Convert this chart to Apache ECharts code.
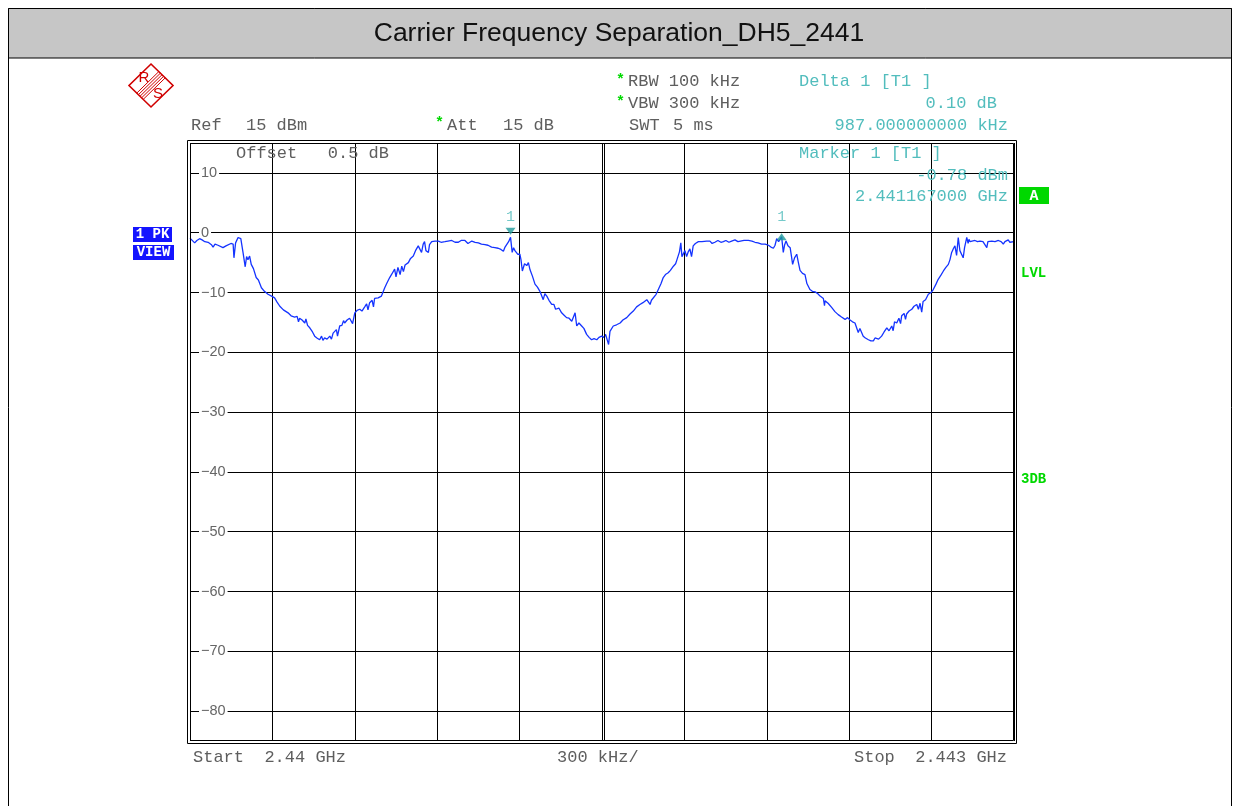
<!DOCTYPE html>
<html>
<head>
<meta charset="utf-8">
<script src="https://cdn.jsdelivr.net/npm/echarts@6/dist/echarts.min.js"></script>
<style>
  html, body { margin: 0; padding: 0; background: #fff; }
  #chart { width: 1234px; height: 806px; }
</style>
</head>
<body>
<div id="chart"></div>
<script>
// ---- Measurement settings ----
const TITLE = 'Carrier Frequency Separation_DH5_2441';
const START_GHZ = 2.44;
const STOP_GHZ = 2.443;
const SPAN_KHZ = 3000;       // frequency offset axis, kHz from start
const DIV_KHZ = 300;
const REF_DBM = 15;
const BOTTOM_DBM = -85;
const LEVEL_STEP = 10;

// ---- Trace: frequency offset from start (kHz) and level (dBm) ----
const traceKHz = [
  0, 5, 17, 25, 35, 44, 54, 66, 78, 84, 91, 102, 109, 120, 131, 138, 149, 157, 160, 166,
  175, 185, 193, 201, 206, 211, 217, 223, 231, 241, 249, 260, 271, 284, 297, 308, 317, 327, 340, 357,
  368, 381, 390, 395, 399, 408, 418, 422, 428, 436, 446, 454, 462, 472, 479, 484, 490, 499, 509, 515,
  521, 527, 533, 537, 545, 553, 559, 563, 572, 581, 587, 592, 600, 608, 618, 626, 636, 643, 648, 654,
  663, 668, 672, 685, 697, 703, 709, 717, 727, 735, 745, 750, 757, 765, 771, 777, 783, 795, 803, 813,
  821, 831, 837, 843, 849, 854, 859, 868, 872, 880, 892, 904, 914, 921, 928, 939, 953, 965, 977, 987,
  994, 1001, 1012, 1026, 1038, 1050, 1061, 1074, 1085, 1098, 1110, 1122, 1132, 1141, 1147, 1153, 1160, 1167, 1173, 1178,
  1183, 1189, 1193, 1201, 1205, 1210, 1218, 1226, 1232, 1238, 1247, 1256, 1265, 1274, 1280, 1286, 1292, 1299, 1307, 1317,
  1325, 1331, 1335, 1343, 1353, 1362, 1371, 1380, 1390, 1394, 1402, 1408, 1416, 1426, 1434, 1444, 1453, 1462, 1471, 1481,
  1489, 1499, 1507, 1513, 1517, 1524, 1529, 1541, 1553, 1566, 1576, 1590, 1602, 1614, 1620, 1626, 1638, 1649, 1663, 1669,
  1675, 1680, 1687, 1697, 1705, 1715, 1723, 1731, 1741, 1749, 1760, 1768, 1773, 1778, 1782, 1787, 1791, 1796, 1802, 1808,
  1814, 1820, 1826, 1832, 1840, 1851, 1864, 1881, 1893, 1901, 1911, 1922, 1933, 1942, 1951, 1962, 1972, 1984, 1995, 2002,
  2017, 2033, 2046, 2057, 2068, 2081, 2094, 2106, 2115, 2124, 2130, 2136, 2143, 2154, 2160, 2165, 2170, 2177, 2185, 2190,
  2194, 2201, 2209, 2215, 2221, 2230, 2239, 2246, 2257, 2266, 2276, 2286, 2294, 2306, 2310, 2312, 2323, 2336, 2348, 2360,
  2372, 2385, 2394, 2403, 2412, 2421, 2428, 2433, 2439, 2451, 2459, 2470, 2479, 2488, 2494, 2500, 2507, 2518, 2527, 2537,
  2545, 2555, 2560, 2565, 2573, 2581, 2587, 2591, 2600, 2605, 2609, 2618, 2628, 2636, 2646, 2652, 2658, 2664, 2669, 2678,
  2688, 2698, 2706, 2716, 2724, 2734, 2743, 2752, 2761, 2767, 2773, 2780, 2785, 2791, 2797, 2803, 2809, 2815, 2820, 2828,
  2833, 2836, 2840, 2847, 2858, 2867, 2876, 2887, 2894, 2901, 2905, 2919, 2931, 2943, 2953, 2961, 2967, 2979, 2985, 2992,
  3000
];
const traceDBm = [
  -0.9, -1.1, -1.7, -1.3, -1.0, -1.2, -1.5, -1.6, -2.0, -2.4, -1.9, -2.1, -2.3, -2.5, -2.2, -2.0, -1.8, -1.9, -4.2, -1.7,
  -0.8, -1.0, -3.3, -5.7, -4.0, -4.5, -3.9, -5.3, -6.0, -7.5, -7.9, -9.2, -9.8, -10.3, -10.6, -10.9, -11.6, -12.3, -12.9, -13.4,
  -13.9, -14.1, -14.0, -14.9, -14.3, -14.6, -15.1, -14.4, -15.5, -15.9, -16.6, -17.3, -17.6, -17.9, -17.3, -18.0, -17.6, -17.8, -17.3, -17.8,
  -16.8, -16.5, -16.2, -17.3, -15.6, -15.5, -14.7, -15.1, -14.6, -14.3, -14.2, -15.2, -13.4, -13.0, -12.8, -13.1, -12.4, -11.9, -12.9, -11.7,
  -11.3, -12.4, -11.0, -10.9, -10.6, -10.4, -9.2, -8.4, -7.5, -6.9, -6.1, -7.4, -5.8, -7.0, -5.6, -6.5, -5.4, -5.0, -4.3, -3.9,
  -3.0, -2.2, -2.0, -3.3, -1.9, -1.5, -3.0, -3.3, -2.0, -1.5, -1.4, -1.4, -1.6, -1.3, -1.5, -1.4, -1.3, -1.6, -1.6, -1.3,
  -1.5, -1.3, -1.8, -1.4, -1.6, -1.7, -1.9, -2.0, -2.1, -2.4, -2.5, -2.6, -2.8, -3.1, -2.4, -2.2, -1.5, -0.78, -3.3, -2.5,
  -3.0, -2.7, -3.6, -3.6, -4.5, -6.4, -5.2, -5.5, -5.0, -6.2, -7.3, -8.6, -9.1, -9.8, -9.6, -11.2, -10.2, -10.6, -11.3, -12.0,
  -12.0, -12.8, -13.1, -12.6, -13.4, -13.8, -14.2, -14.3, -14.8, -14.5, -13.4, -15.6, -15.1, -15.6, -16.0, -17.0, -17.5, -17.9, -17.7, -17.9,
  -17.5, -17.3, -17.5, -17.0, -17.0, -18.7, -16.5, -15.6, -15.4, -15.1, -14.6, -14.2, -13.6, -13.1, -13.4, -12.4, -12.0, -11.7, -11.2, -11.0,
  -12.0, -11.3, -11.0, -10.3, -9.5, -8.5, -7.5, -7.0, -6.7, -6.3, -5.6, -5.2, -4.5, -4.7, -3.2, -1.7, -4.0, -3.9, -3.0, -4.0,
  -3.2, -2.7, -4.0, -2.2, -1.8, -1.5, -1.5, -1.4, -1.4, -1.8, -1.6, -1.3, -1.6, -1.5, -1.3, -1.6, -1.4, -1.2, -1.5, -1.3,
  -1.3, -1.3, -1.4, -1.6, -1.7, -1.9, -1.9, -2.1, -2.4, -2.6, -2.1, -1.0, -1.5, -0.68, -3.3, -2.0, -1.4, -2.2, -2.5, -4.0,
  -5.3, -4.2, -3.6, -5.0, -6.3, -6.8, -7.0, -8.5, -9.5, -9.8, -9.9, -10.2, -10.6, -11.0, -12.2, -11.4, -11.8, -12.5, -13.2, -13.7,
  -14.1, -14.5, -14.2, -14.6, -14.9, -15.1, -15.1, -16.7, -16.0, -17.3, -17.6, -17.9, -18.1, -18.1, -17.6, -17.3, -17.8, -17.3, -16.6, -15.9,
  -16.4, -15.6, -16.4, -14.9, -15.1, -14.3, -15.2, -13.9, -13.5, -14.5, -13.6, -13.1, -12.8, -12.3, -12.0, -12.8, -11.8, -13.3, -11.5, -11.2,
  -10.3, -10.0, -9.5, -8.6, -7.8, -7.1, -6.4, -5.8, -5.3, -4.5, -3.3, -2.6, -2.2, -3.8, -0.8, -3.0, -3.6, -4.2, -2.5, -0.8,
  -1.8, -1.1, -1.5, -1.3, -1.3, -1.5, -1.4, -1.5, -1.5, -2.5, -1.5, -1.4, -1.5, -1.3, -1.5, -1.9, -1.5, -1.2, -1.6, -1.4,
  -1.5
];

// ---- Markers: Marker 1 (T1) and Delta 1 (T1) ----
const markerKHz = [1167, 2154];
const markerDBm = [-0.78, -0.68];

// ---- Styling ----
const GRID = { left: 190, top: 143, width: 824, height: 598 };
const MONO = '"Liberation Mono", "Courier New", monospace';
const SANS = '"Liberation Sans", Arial, Helvetica, sans-serif';
const GRAY = '#5e5e5e';
const CYAN = '#52bdbd';
const TEAL = '#1f9a9a';
const GREEN = '#00d800';
const TRACE = '#1433ff';
const GRIDLINE = '#000000';

const fmtMinus = v => String(v).replace('-', '\u2212');

const deltaLevelText = (markerDBm[1] - markerDBm[0]).toFixed(2) + ' dB';
const deltaFreqText = (markerKHz[1] - markerKHz[0]).toFixed(9) + ' kHz';
const markerLevelText = markerDBm[0].toFixed(2) + ' dBm';
const markerFreqText = (START_GHZ + markerKHz[0] / 1e6).toFixed(9) + ' GHz';

function txt(text, x, y, opts) {
  opts = opts || {};
  return {
    type: 'text', x: x, y: y, z: 100, silent: true,
    style: {
      text: text,
      font: (opts.weight || 'normal') + ' ' + (opts.size || 17) + 'px ' + (opts.family || MONO),
      fill: opts.color || GRAY,
      align: opts.align || 'left',
      verticalAlign: 'middle'
    }
  };
}
function box(x, y, w, h, fill) {
  return { type: 'rect', z: 90, silent: true, shape: { x: x, y: y, width: w, height: h }, style: { fill: fill } };
}
function line(x1, y1, x2, y2, color, width) {
  return { type: 'line', z: 95, silent: true, shape: { x1: x1, y1: y1, x2: x2, y2: y2 }, style: { stroke: color, lineWidth: width || 1 } };
}

// Rohde & Schwarz style logo: diamond, diagonal band, R and S
function logo(cx, cy, rx, ry) {
  const red = '#d00000';
  const els = [];
  els.push({ type: 'polygon', z: 95, silent: true,
    shape: { points: [[cx, cy - ry], [cx + rx, cy], [cx, cy + ry], [cx - rx, cy]] },
    style: { fill: '#fff', stroke: red, lineWidth: 1.6 } });
  const ux = rx / Math.hypot(rx, ry), uy = ry / Math.hypot(rx, ry);
  const ne = [cx + rx / 2, cy - ry / 2], sw = [cx - rx / 2, cy + ry / 2];
  [-4.5, -2.25, 0, 2.25, 4.5].forEach(t => {
    els.push(line(ne[0] + t * ux, ne[1] + t * uy, sw[0] + t * ux, sw[1] + t * uy, red, 1));
  });
  els.push(txt('R', cx - 7, cy - 8, { family: SANS, size: 15, color: red, align: 'center' }));
  els.push(txt('S', cx + 7, cy + 8, { family: SANS, size: 15, color: red, align: 'center' }));
  return els;
}

const chart = echarts.init(document.getElementById('chart'), null, { renderer: 'canvas' });

const frameIn = { x: GRID.left + 0.5, y: GRID.top + 0.5, w: GRID.width - 1, h: GRID.height - 1 };

const graphics = [
  // page border and title bar
  { type: 'rect', z: 1, silent: true, shape: { x: 8.5, y: 8.5, width: 1223, height: 840 }, style: { fill: 'none', stroke: '#000', lineWidth: 1 } },
  { type: 'rect', z: 2, silent: true, shape: { x: 8.5, y: 8.5, width: 1223, height: 49.5 }, style: { fill: '#c6c6c6', stroke: '#000', lineWidth: 1 } },
  txt(TITLE, 619, 34, { family: SANS, size: 26.5, color: '#111', align: 'center' }),

  // double frame around the display
  { type: 'rect', z: 96, silent: true, shape: { x: frameIn.x, y: frameIn.y, width: frameIn.w, height: frameIn.h }, style: { fill: 'none', stroke: GRIDLINE, lineWidth: 1 } },
  { type: 'rect', z: 96, silent: true, shape: { x: frameIn.x - 3, y: frameIn.y - 3, width: frameIn.w + 6, height: frameIn.h + 6 }, style: { fill: 'none', stroke: GRIDLINE, lineWidth: 1 } },

  // header lines
  txt('Ref', 191, 125),
  txt(REF_DBM + ' dBm', 246, 125),
  txt('*', 435, 123, { color: GREEN, size: 15, weight: 'bold' }),
  txt('Att', 447, 125),
  txt('15 dB', 503, 125),
  txt('*', 616, 80, { color: GREEN, size: 15, weight: 'bold' }),
  txt('RBW 100 kHz', 628, 81),
  txt('*', 616, 102, { color: GREEN, size: 15, weight: 'bold' }),
  txt('VBW 300 kHz', 628, 103),
  txt('SWT', 629, 125),
  txt('5 ms', 673, 125),

  // delta / marker readout
  txt('Delta 1 [T1 ]', 799, 81, { color: CYAN }),
  txt(deltaLevelText, 997, 103, { color: CYAN, align: 'right' }),
  txt(deltaFreqText, 1008, 125, { color: CYAN, align: 'right' }),
  txt('Marker 1 [T1 ]', 799, 153, { color: CYAN }),
  txt(markerLevelText, 1008, 175, { color: CYAN, align: 'right' }),
  txt(markerFreqText, 1008, 196, { color: CYAN, align: 'right' }),
  txt('Offset   0.5 dB', 236, 153),

  // footer
  txt('Start  ' + START_GHZ + ' GHz', 193, 757),
  txt(DIV_KHZ + ' kHz/', 557, 757),
  txt('Stop  ' + STOP_GHZ + ' GHz', 854, 757),

  // trace info boxes
  box(133, 227, 39, 15, '#1414ff'),
  txt('1 PK', 152.5, 234.5, { color: '#fff', size: 14, weight: 'bold', align: 'center' }),
  box(133, 245, 41, 15, '#1414ff'),
  txt('VIEW', 153.5, 252.5, { color: '#fff', size: 14, weight: 'bold', align: 'center' }),

  // right side status
  box(1019, 187, 30, 17, GREEN),
  txt('A', 1034, 196, { color: '#fff', size: 15, weight: 'bold', align: 'center' }),
  txt('LVL', 1021, 273, { color: GREEN, size: 14, weight: 'bold' }),
  txt('3DB', 1021, 479, { color: GREEN, size: 14, weight: 'bold' })
].concat(logo(151, 85.5, 22, 21.5));

const option = {
  animation: false,
  backgroundColor: '#fff',
  grid: Object.assign({ show: false }, GRID),
  xAxis: {
    type: 'value', min: 0, max: SPAN_KHZ, interval: DIV_KHZ,
    axisLine: { show: false }, axisTick: { show: false }, axisLabel: { show: false },
    splitLine: { show: true, lineStyle: { color: GRIDLINE, width: 1 } }
  },
  yAxis: {
    type: 'value', min: BOTTOM_DBM, max: REF_DBM, interval: LEVEL_STEP / 2,
    axisLine: { show: false }, axisTick: { show: false },
    axisLabel: {
      inside: true, margin: 9,
      formatter: v => (v % LEVEL_STEP === 0) ? '{l|' + fmtMinus(v) + '}' : '',
      rich: { l: { backgroundColor: '#fff', padding: [0, 2], color: '#666', fontSize: 14.5, fontFamily: SANS } }
    },
    // only every other line (the 10 dB steps) is drawn
    splitLine: { show: true, lineStyle: { color: ['rgba(0,0,0,0)', GRIDLINE], width: 1 } }
  },
  series: [
    {
      name: 'Trace 1', type: 'line', silent: true,
      data: traceKHz.map((k, i) => [k, traceDBm[i]]),
      showSymbol: false, symbol: 'none',
      lineStyle: { color: TRACE, width: 1.3 },
      z: 3
    },
    {
      name: 'Marker 1', type: 'scatter', silent: true,
      data: [[markerKHz[0], markerDBm[0]]],
      symbol: 'triangle', symbolRotate: 180, symbolSize: [10, 7], symbolOffset: [0, -6],
      itemStyle: { color: TEAL }, z: 5
    },
    {
      name: 'Delta 1', type: 'scatter', silent: true,
      data: [[markerKHz[1], markerDBm[1]]],
      symbol: 'triangle', symbolSize: [10, 7],
      itemStyle: { color: TEAL }, z: 5
    },
    {
      name: 'Marker labels', type: 'scatter', silent: true,
      data: markerKHz.map((k, i) => [k, markerDBm[i]]),
      symbolSize: 1, itemStyle: { color: 'rgba(0,0,0,0)' },
      label: { show: true, formatter: '1', position: 'inside', offset: [0, -20], color: CYAN, fontSize: 15, fontFamily: MONO },
      z: 6
    }
  ],
  graphic: graphics
};

chart.setOption(option);

// second stroke of the doubled centre line
const cx = Math.round(chart.convertToPixel({ xAxisIndex: 0 }, SPAN_KHZ / 2));
chart.setOption({
  graphic: graphics.concat([line(cx + 2.5, GRID.top, cx + 2.5, GRID.top + GRID.height, GRIDLINE, 1)])
});
</script>
</body>
</html>
